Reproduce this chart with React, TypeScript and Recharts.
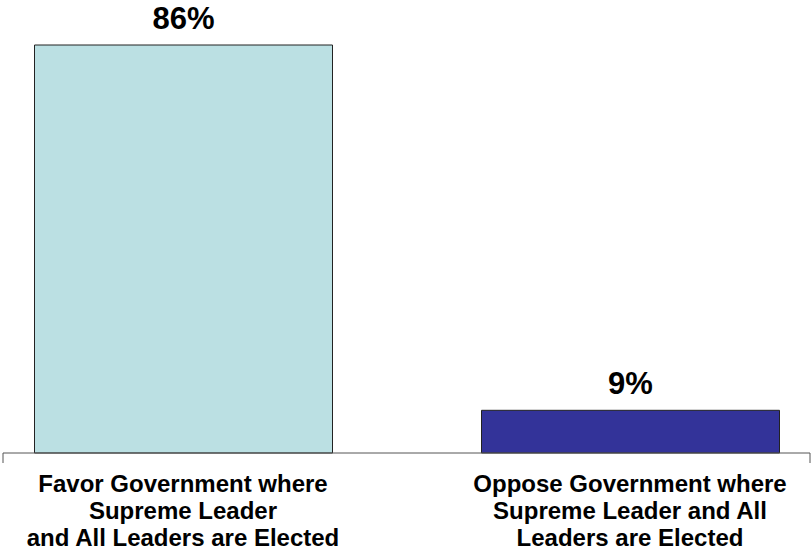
import React from 'react';
import { BarChart, Bar, XAxis, YAxis, LabelList, Cell } from 'recharts';

const categories: string[][] = [
  ['Favor Government where', 'Supreme Leader', 'and All Leaders are Elected'],
  ['Oppose Government where', 'Supreme Leader and All', 'Leaders are Elected'],
];
const values: number[] = [86, 9];
const colors: string[] = ['#BBE0E3', '#333399'];

const data = categories.map((lines, i) => ({ name: lines.join(' '), lines, value: values[i] }));

const FONT = '"Liberation Sans", Arial, sans-serif';

const Tick = (props: any) => {
  const { x, y, index } = props;
  const lines = categories[index] || [];
  const edgeX = index === 0 ? x - 180 : x + 180;
  return (
    <g>
      <line x1={edgeX} y1={y} x2={edgeX} y2={y + 10} stroke="#555" strokeWidth={1} />
      <text x={x} y={y} textAnchor="middle" fontFamily={FONT} fontWeight="bold" fontSize={24} fill="#000">
        {lines.map((l, i) => (
          <tspan key={i} x={x} y={y + 39 + i * 27}>{l}</tspan>
        ))}
      </text>
    </g>
  );
};

export default function App() {
  return (
    <div style={{ position: 'absolute', left: 0, top: 0, background: '#fff' }}>
      <BarChart
        width={811}
        height={553}
        data={data}
        margin={{ top: 45, right: 1, bottom: 0, left: 3 }}
      >
        <XAxis
          dataKey="name"
          height={100}
          tickLine={false}
          tickSize={0}
          tickMargin={0}
          axisLine={{ stroke: '#555', strokeWidth: 1 }}
          padding={{ left: -43.5, right: -43.5 }}
          tick={<Tick />}
          interval={0}
        />
        <YAxis hide domain={[0, 86]} />
        <Bar dataKey="value" barSize={298} stroke="#222" strokeWidth={1} isAnimationActive={false}>
          {data.map((d, i) => (
            <Cell key={i} fill={colors[i]} />
          ))}
          <LabelList
            dataKey="value"
            position="top"
            offset={16}
            formatter={(v: any) => `${v}%`}
            style={{ fontFamily: FONT, fontWeight: 'bold', fontSize: 31, fill: '#000' }}
          />
        </Bar>
      </BarChart>
    </div>
  );
}
